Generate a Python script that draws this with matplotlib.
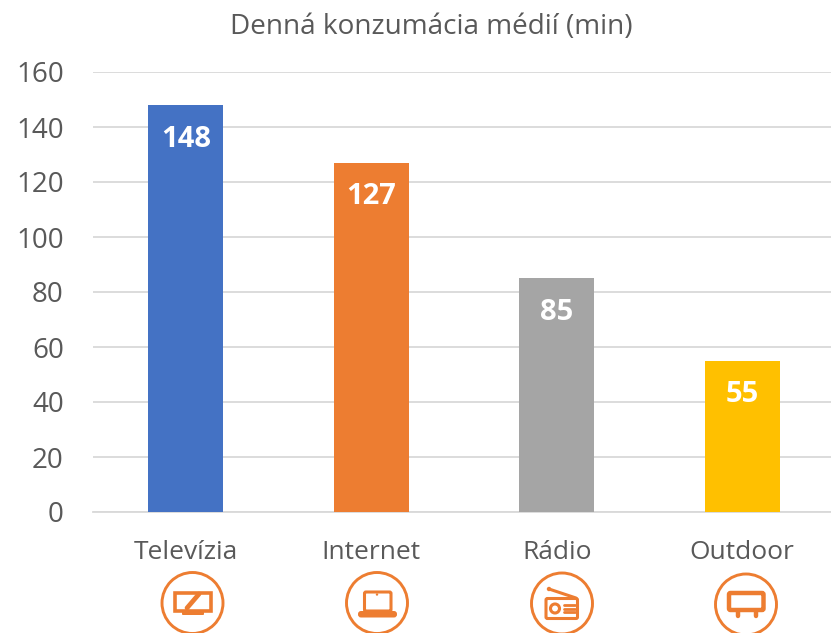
import matplotlib
matplotlib.use("Agg")
import matplotlib.pyplot as plt
from matplotlib.patches import Circle, FancyBboxPatch

categories = ["Televízia", "Internet", "Rádio", "Outdoor"]
values = [148, 127, 85, 55]
colors = ["#4472C4", "#ED7D31", "#A5A5A5", "#FFC000"]
yticks = [0, 20, 40, 60, 80, 100, 120, 140, 160]
title = "Denná konzumácia médií (min)"

W, H = 831, 633
GRAY = "#595959"
GRID = "#D9D9D9"
ORANGE = "#ED7D31"
plt.rcParams["font.family"] = ["Open Sans", "DejaVu Sans"]

fig = plt.figure(figsize=(W / 100, H / 100), dpi=100, facecolor="white")
ax = fig.add_axes([93 / W, 1 - 512 / H, 742 / W, 440 / H])
ax.bar(range(4), values, width=0.405, color=colors, zorder=3)
ax.set_xlim(-0.5, 3.5)
ax.set_ylim(0, 160)
ax.set_yticks(yticks)
ax.set_xticks(range(4), categories)
ax.tick_params(axis="both", length=0, colors=GRAY)
ax.tick_params(axis="y", labelsize=20, pad=21)
ax.tick_params(axis="x", labelsize=19, pad=20)
ax.grid(axis="y", color=GRID, lw=1.3, zorder=0)
ax.set_axisbelow(True)
for s in ["top", "left", "right"]:
    ax.spines[s].set_visible(False)
ax.spines["bottom"].set_color(GRID)
ax.spines["bottom"].set_linewidth(1.3)
for i, v in enumerate(values):
    ax.annotate(str(v), (i, v), xytext=(0, -24.5), textcoords="offset points",
                ha="center", va="center", color="white", fontsize=21, fontweight="bold", zorder=4)
fig.text(431 / W, 1 - 27 / H, title, ha="center", va="center", color=GRAY, fontsize=20.1)

# Icon row, drawn in figure pixel coordinates
ic = fig.add_axes([0, 0, 1, 1], facecolor="none")
ic.set_xlim(0, W)
ic.set_ylim(H, 0)
ic.axis("off")


def ring(cx, cy):
    ic.add_patch(Circle((cx, cy), 30.5, fill=False, ec=ORANGE, lw=2.1))


def rect(x, y, w, h, fill=False, lw=2.2, r=0.0):
    style = f"round,pad=0,rounding_size={r}" if r else "square,pad=0"
    ic.add_patch(FancyBboxPatch((x, y), w, h, boxstyle=style, fc=ORANGE if fill else "none",
                                ec=ORANGE if not fill else "none", lw=lw))


def line(x0, y0, x1, y1, lw=2.2):
    ic.plot([x0, x1], [y0, y1], color=ORANGE, lw=lw, solid_capstyle="round")


# TV
cx, cy = 192.5, 603
ring(cx, cy)
rect(174.5, 592.5, 36.5, 18.5, lw=2.6)
line(187, 608, 199, 594, lw=3.4)
rect(182, 611, 22, 4, fill=True, r=1)

# Laptop
cx, cy = 377, 603
ring(cx, cy)
rect(364.5, 592, 26.5, 19, lw=2.2, r=1.5)
rect(358, 611, 39, 6.5, fill=True, r=3)
ic.add_patch(Circle((377, 594.5), 1.2, fc=ORANGE, ec="none"))

# Radio
cx, cy = 562, 603.5
ring(cx, cy)
rect(546, 598.5, 31.5, 20, lw=2.2, r=1.5)
line(549, 589, 576, 598, lw=2.2)
ic.add_patch(Circle((549, 589), 2.2, fc=ORANGE, ec="none"))
ic.add_patch(Circle((555, 608.5), 4.5, fill=False, ec=ORANGE, lw=2.2))
for yy in (605, 608.5, 612):
    line(564, yy, 575, yy, lw=2)

# Outdoor billboard
cx, cy = 746, 604.5
ring(cx, cy)
rect(729, 593, 34.5, 17, lw=3.2, r=1.5)
line(738, 611, 738, 616, lw=3.2)
line(756, 611, 756, 616, lw=3.2)

fig.savefig("out.png", dpi=100)
